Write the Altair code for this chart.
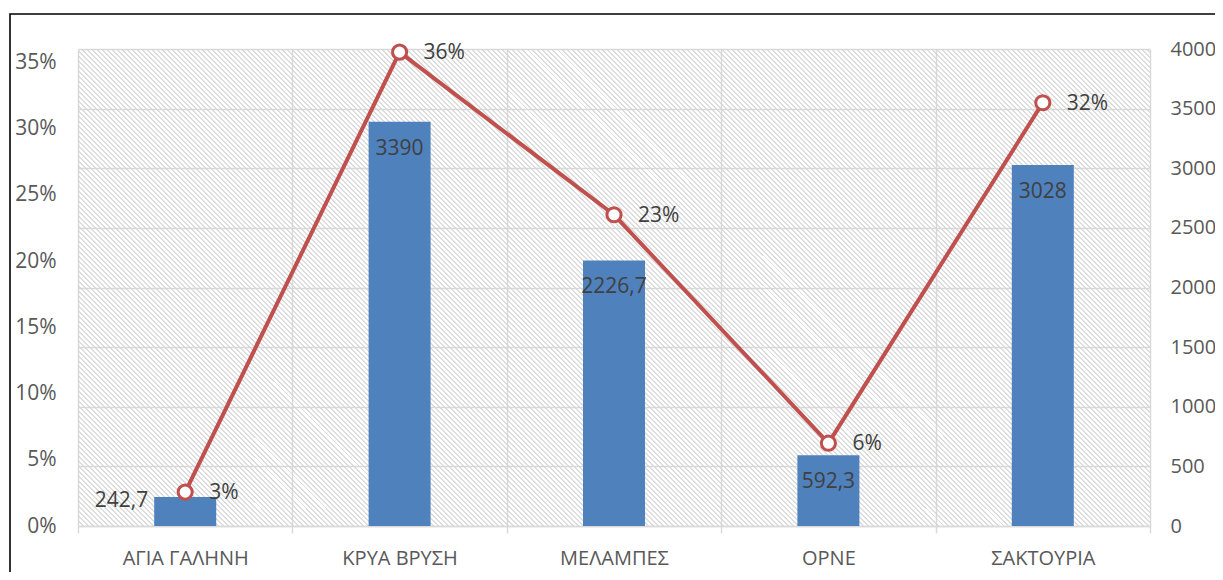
import altair as alt
import pandas as pd

# ---- data ----
categories = ["ΑΓΙΑ ΓΑΛΗΝΗ", "ΚΡΥΑ ΒΡΥΣΗ", "ΜΕΛΑΜΠΕΣ", "ΟΡΝΕ", "ΣΑΚΤΟΥΡΙΑ"]
values = [242.7, 3390, 2226.7, 592.3, 3028]
shares = [0.0256, 0.3576, 0.2349, 0.0625, 0.3194]
pct_ticks = [0, 0.05, 0.10, 0.15, 0.20, 0.25, 0.30, 0.35]
val_ticks = [0, 500, 1000, 1500, 2000, 2500, 3000, 3500, 4000]

df = pd.DataFrame({"cat": categories, "value": values, "share": shares})

W, H = 1072, 477
FONT = "Open Sans"
AXIS_TXT = "#595959"
LBL_TXT = "#404040"
GRID = "#d9d9d9"
BLUE = "#4F81BD"
RED = "#C0504D"

# ---- diagonal hatch for the plot background (style only) ----
period = 5.0
stripe = 1.5
total = W + H
clear = "rgba(255,255,255,0)"
gray = "rgba(212,212,212,0.8)"
stops = []
k = 0
while k * period < total:
    a = k * period / total
    b = min((k * period + stripe) / total, 1.0)
    stops += [
        alt.GradientStop(offset=a, color=clear),
        alt.GradientStop(offset=a, color=gray),
        alt.GradientStop(offset=b, color=gray),
        alt.GradientStop(offset=b, color=clear),
    ]
    k += 1
lam = total / (W * W + H * H)
grad = alt.LinearGradient(gradient="linear", stops=stops,
                          x1=0, y1=1, x2=lam * W, y2=1 - lam * H)

one = alt.Data(values=[{}])
frame = alt.Chart(one).mark_rect(fillOpacity=0, stroke="black", strokeWidth=1.6).encode(
    x=alt.value(-68), x2=alt.value(1400), y=alt.value(-35), y2=alt.value(800))
hatch = alt.Chart(one).mark_rect(fill=grad).encode(
    x=alt.value(0), x2=alt.value(W), y=alt.value(0), y2=alt.value(H))

x_enc = alt.X("cat:N", sort=categories,
              scale=alt.Scale(paddingInner=0, paddingOuter=0),
              axis=alt.Axis(title=None, labelAngle=0, labelFont=FONT, labelFontSize=20,
                            labelColor=AXIS_TXT, labelPadding=15,
                            domainColor=GRID, domainWidth=1.5,
                            tickColor=GRID, tickWidth=1.5, tickSize=7,
                            tickBand="extent", grid=True, gridColor=GRID, gridWidth=1.5))

base = alt.Chart(df)

y_val = alt.Y("value:Q", scale=alt.Scale(domain=[0, 4000], nice=False),
              axis=alt.Axis(orient="right", values=val_ticks, format="d", title=None,
                            grid=True, gridColor=GRID, gridWidth=1.5, ticks=False,
                            domain=False, labelFont=FONT, labelFontSize=20,
                            labelColor=AXIS_TXT, labelPadding=20))

bars = base.mark_bar(size=62, color=BLUE).encode(x=x_enc, y=y_val)

lbl_expr = "replace(format(datum.value, ''), '.', ',')"
bar_lbl_main = base.transform_filter(
    alt.FieldOneOfPredicate(field="cat", oneOf=categories[1:])
).transform_calculate(lbl=lbl_expr).mark_text(
    font=FONT, fontSize=21, color=LBL_TXT, baseline="middle", dy=27
).encode(x=x_enc, y=y_val, text="lbl:N")

bar_lbl_first = base.transform_filter(
    alt.FieldEqualPredicate(field="cat", equal=categories[0])
).transform_calculate(lbl=lbl_expr).mark_text(
    font=FONT, fontSize=21, color=LBL_TXT, baseline="middle", align="right", dx=-37, dy=4
).encode(x=x_enc, y=y_val, text="lbl:N")

bar_layer = alt.layer(bars, bar_lbl_main, bar_lbl_first)

y_pct = alt.Y("share:Q", scale=alt.Scale(domain=[0, 0.36], nice=False),
              axis=alt.Axis(orient="left", values=pct_ticks, format=".0%", title=None,
                            grid=False, ticks=False, domain=False,
                            labelFont=FONT, labelFontSize=21, labelColor=AXIS_TXT,
                            labelPadding=22))

line = base.mark_line(color=RED, strokeWidth=4).encode(x=x_enc, y=y_pct)
points = base.mark_circle(fill="white", stroke=RED, strokeWidth=3, size=200, opacity=1).encode(
    x=x_enc, y=y_pct)
pct_lbl = base.mark_text(font=FONT, fontSize=21, color=LBL_TXT, align="left",
                         baseline="middle", dx=24, dy=1).encode(
    x=x_enc, y=y_pct, text=alt.Text("share:Q", format=".0%"))

line_layer = alt.layer(line, points, pct_lbl)

chart = alt.layer(frame, hatch, bar_layer, line_layer).resolve_scale(
    y="independent"
).properties(
    width=W, height=H,
    autosize=alt.AutoSizeParams(type="none"),
    padding={"left": 70, "top": 41, "right": 65, "bottom": 46},
    background="white",
).configure_view(stroke="transparent")

chart.save("out.html", embed_options={"renderer": "svg", "actions": False})
